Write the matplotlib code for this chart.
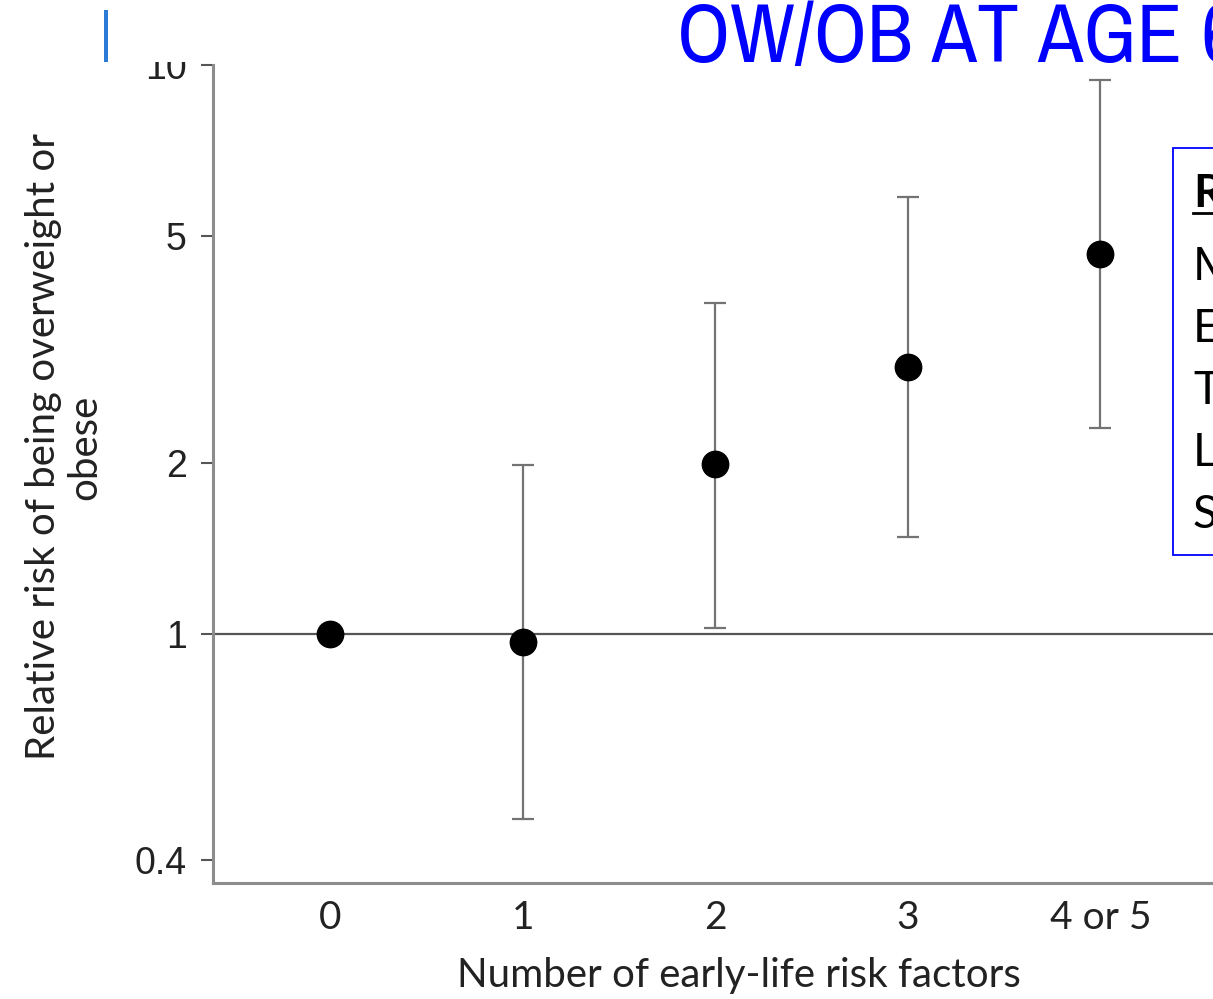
import numpy as np
import matplotlib.pyplot as plt
from matplotlib import font_manager
from matplotlib.patches import Rectangle
from matplotlib.lines import Line2D

# --- Data ---
categories = ['0', '1', '2', '3', '4 or 5']
rel_risk = [1.0, 0.967, 1.99, 2.95, 4.65]
ci_low = [np.nan, 0.473, 1.025, 1.48, 2.30]
ci_high = [np.nan, 1.98, 3.82, 5.86, 9.43]
y_ticks = [0.4, 1, 2, 5, 10]
y_tick_labels = ['0.4', '1', '2', '5', '10']

box_lines = ['M', 'E', 'T', 'L', 'S']

# look for a narrow face for the slide title
narrow = None
for f in font_manager.fontManager.ttflist:
    if 'Narrow' in f.name or 'Condensed' in f.name:
        narrow = f.name
        break
title_family = [narrow, 'DejaVu Sans'] if narrow else ['DejaVu Sans']
title_size = 60 if narrow else 50

W, H = 1213, 999
fig = plt.figure(figsize=(W / 100, H / 100), dpi=100)

# axes: left spine at x=213 px, bottom at 883 px, top at 65 px; extends past the right edge
x_min, x_max = -0.61, 4.8
ax = fig.add_axes([213 / W, (H - 883) / H, (x_max - x_min) * 192.5 / W, (883 - 65) / H])

x = np.arange(len(categories))
rr = np.array(rel_risk)
lo = np.array(ci_low)
hi = np.array(ci_high)
has_ci = ~np.isnan(lo)

ax.axhline(1, color='#555555', lw=1.6, zorder=1)
ax.errorbar(x[has_ci], rr[has_ci], yerr=[rr[has_ci] - lo[has_ci], hi[has_ci] - rr[has_ci]],
            fmt='none', ecolor='#737373', elinewidth=1.6, capsize=8, capthick=1.6, zorder=2)
ax.plot(x, rr, 'o', color='black', markersize=19, zorder=3)

ax.set_yscale('log')
ax.set_ylim(0.365, 10)
ax.set_xlim(x_min, x_max)
ax.set_yticks(y_ticks)
ax.set_yticklabels(y_tick_labels)
ax.minorticks_off()
ax.set_xticks(x)
ax.set_xticklabels(categories)

for s in ['top', 'right']:
    ax.spines[s].set_visible(False)
for s in ['left', 'bottom']:
    ax.spines[s].set_color('#8c8c8c')
    ax.spines[s].set_linewidth(2.2)

ax.tick_params(axis='y', length=9, width=1.5, color='#555555', pad=10,
               labelsize=27, labelcolor='#222222')
ax.tick_params(axis='x', length=0, pad=12, labelsize=28, labelcolor='#222222')
for lab in ax.get_yticklabels():
    lab.set_family(['Liberation Sans', 'DejaVu Sans'])
for lab in ax.get_xticklabels():
    lab.set_family(['Lato', 'DejaVu Sans'])

# axis titles
fig.text(64 / W, 1 - 447 / H, 'Relative risk of being overweight or\nobese',
         rotation=90, ha='center', va='center', fontsize=29, color='#222222',
         family=['Lato', 'DejaVu Sans'], linespacing=1.15, multialignment='center')
fig.text(739 / W, 1 - 975 / H, 'Number of early-life risk factors',
         ha='center', va='center', fontsize=29, color='#222222',
         family=['Lato', 'DejaVu Sans'])

# slide header band covering top of the chart
fig.patches.append(Rectangle((0, 1 - 62 / H), 1, 62 / H, transform=fig.transFigure,
                             facecolor='white', edgecolor='none', zorder=10))
fig.patches.append(Rectangle((104 / W, 1 - 62 / H), 4 / W, 52 / H, transform=fig.transFigure,
                             facecolor='#2B7BD6', edgecolor='none', zorder=11))
fig.text(677 / W, 1 - 62 / H, 'OW/OB AT AGE 6', ha='left', va='baseline',
         fontsize=title_size, color='#0000FF', family=title_family, zorder=12)

# text box on the right
fig.patches.append(Rectangle((1173 / W, 1 - 555 / H), 200 / W, (555 - 148) / H,
                             transform=fig.transFigure, facecolor='white',
                             edgecolor='#0000FF', lw=1.3, zorder=10))
fig.text(1193 / W, 1 - 207 / H, 'R', ha='left', va='baseline', fontsize=33,
         fontweight='bold', color='black', family=['Lato', 'DejaVu Sans'], zorder=12)
fig.lines.append(Line2D([1193 / W, 1.0], [1 - 213 / H, 1 - 213 / H],
                        transform=fig.transFigure, color='black', lw=2, zorder=12))
for i, t in enumerate(box_lines):
    fig.text(1193 / W, 1 - (280 + 62 * i) / H, t, ha='left', va='baseline', fontsize=33,
             color='black', family=['Lato', 'DejaVu Sans'], zorder=12)

fig.savefig('out.png', dpi=100)
